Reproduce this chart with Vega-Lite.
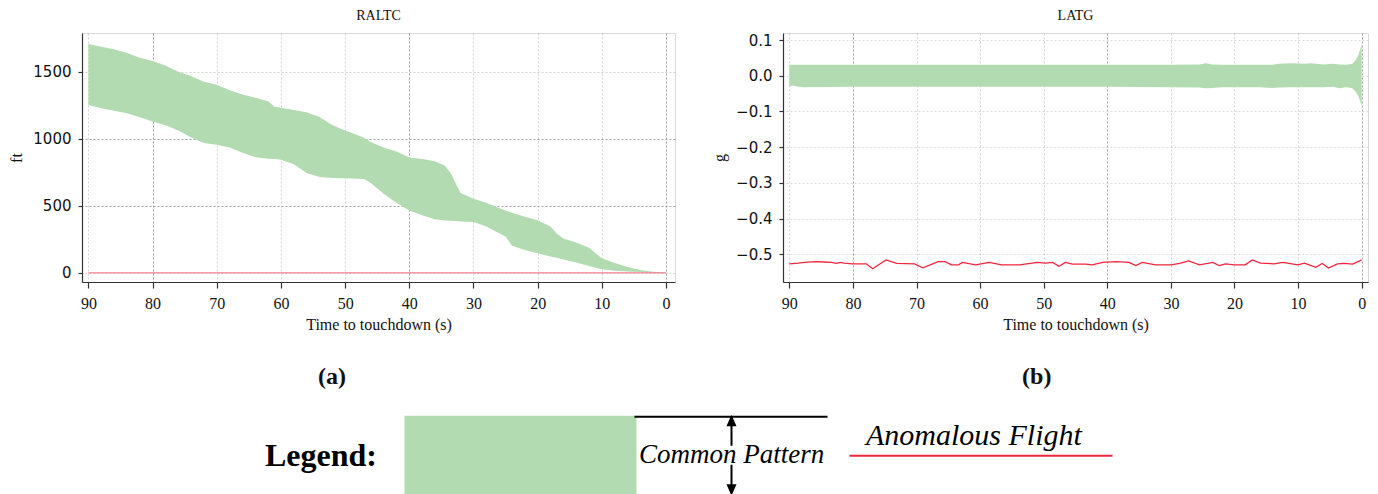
{
  "$schema": "https://vega.github.io/schema/vega-lite/v6.json",
  "padding": {"left": 8, "top": 8, "right": 10, "bottom": 0},
  "background": "white",
  "config": {
    "view": {"stroke": "#d9d9d9", "strokeWidth": 1},
    "axis": {
      "grid": true, "gridColor": "#c4c4c4", "gridDash": [2, 2], "gridWidth": 0.8,
      "domainColor": "#333333", "domainWidth": 1.2, "tickColor": "#333333", "tickWidth": 1.2,
      "labelColor": "#111111", "titleColor": "#111111",
      "titleFont": "Liberation Serif", "titleFontWeight": "normal", "titleFontSize": 16
    },
    "axisX": {"labelFont": "Liberation Serif", "labelFontSize": 16, "tickSize": 6, "labelPadding": 7, "titlePadding": 5, "labelFlush": false},
    "axisY": {"labelFont": "DejaVu Sans", "labelFontSize": 15, "tickSize": 4, "labelPadding": 7, "titlePadding": 8},
    "title": {"font": "Liberation Serif", "fontSize": 14, "fontWeight": "normal", "color": "#111111"}
  },
  "datasets": {
    "raltc_band": [
      {"t": 90, "hi": 1707, "lo": 1252, "series": "Common Pattern"},
      {"t": 88, "hi": 1688, "lo": 1228, "series": "Common Pattern"},
      {"t": 86, "hi": 1668, "lo": 1210, "series": "Common Pattern"},
      {"t": 84, "hi": 1640, "lo": 1190, "series": "Common Pattern"},
      {"t": 82, "hi": 1605, "lo": 1160, "series": "Common Pattern"},
      {"t": 80, "hi": 1580, "lo": 1129, "series": "Common Pattern"},
      {"t": 78, "hi": 1547, "lo": 1100, "series": "Common Pattern"},
      {"t": 76, "hi": 1500, "lo": 1062, "series": "Common Pattern"},
      {"t": 74, "hi": 1468, "lo": 1010, "series": "Common Pattern"},
      {"t": 72, "hi": 1425, "lo": 968, "series": "Common Pattern"},
      {"t": 70, "hi": 1403, "lo": 955, "series": "Common Pattern"},
      {"t": 68, "hi": 1362, "lo": 935, "series": "Common Pattern"},
      {"t": 66, "hi": 1330, "lo": 895, "series": "Common Pattern"},
      {"t": 64, "hi": 1306, "lo": 862, "series": "Common Pattern"},
      {"t": 62, "hi": 1280, "lo": 850, "series": "Common Pattern"},
      {"t": 61, "hi": 1240, "lo": 848, "series": "Common Pattern"},
      {"t": 60, "hi": 1232, "lo": 843, "series": "Common Pattern"},
      {"t": 58, "hi": 1215, "lo": 810, "series": "Common Pattern"},
      {"t": 56, "hi": 1198, "lo": 745, "series": "Common Pattern"},
      {"t": 54, "hi": 1162, "lo": 714, "series": "Common Pattern"},
      {"t": 52, "hi": 1102, "lo": 706, "series": "Common Pattern"},
      {"t": 50, "hi": 1062, "lo": 705, "series": "Common Pattern"},
      {"t": 48, "hi": 1026, "lo": 702, "series": "Common Pattern"},
      {"t": 47, "hi": 1005, "lo": 697, "series": "Common Pattern"},
      {"t": 46, "hi": 975, "lo": 670, "series": "Common Pattern"},
      {"t": 44, "hi": 935, "lo": 590, "series": "Common Pattern"},
      {"t": 42, "hi": 905, "lo": 522, "series": "Common Pattern"},
      {"t": 40, "hi": 860, "lo": 465, "series": "Common Pattern"},
      {"t": 38, "hi": 848, "lo": 428, "series": "Common Pattern"},
      {"t": 36, "hi": 832, "lo": 398, "series": "Common Pattern"},
      {"t": 34.5, "hi": 800, "lo": 390, "series": "Common Pattern"},
      {"t": 33.5, "hi": 740, "lo": 388, "series": "Common Pattern"},
      {"t": 32.5, "hi": 640, "lo": 385, "series": "Common Pattern"},
      {"t": 32, "hi": 595, "lo": 382, "series": "Common Pattern"},
      {"t": 30, "hi": 552, "lo": 378, "series": "Common Pattern"},
      {"t": 28, "hi": 522, "lo": 345, "series": "Common Pattern"},
      {"t": 26, "hi": 483, "lo": 295, "series": "Common Pattern"},
      {"t": 25, "hi": 465, "lo": 270, "series": "Common Pattern"},
      {"t": 24, "hi": 448, "lo": 200, "series": "Common Pattern"},
      {"t": 22, "hi": 418, "lo": 169, "series": "Common Pattern"},
      {"t": 20, "hi": 391, "lo": 144, "series": "Common Pattern"},
      {"t": 18, "hi": 345, "lo": 120, "series": "Common Pattern"},
      {"t": 17, "hi": 290, "lo": 112, "series": "Common Pattern"},
      {"t": 16, "hi": 255, "lo": 98, "series": "Common Pattern"},
      {"t": 14, "hi": 225, "lo": 76, "series": "Common Pattern"},
      {"t": 12, "hi": 185, "lo": 50, "series": "Common Pattern"},
      {"t": 10, "hi": 107, "lo": 25, "series": "Common Pattern"},
      {"t": 8, "hi": 72, "lo": 14, "series": "Common Pattern"},
      {"t": 6, "hi": 42, "lo": 8, "series": "Common Pattern"},
      {"t": 4, "hi": 20, "lo": 4, "series": "Common Pattern"},
      {"t": 2, "hi": 6, "lo": 1, "series": "Common Pattern"},
      {"t": 0, "hi": 0, "lo": 0, "series": "Common Pattern"}
    ],
    "raltc_anom": [
      {"t": 90, "v": 0, "series": "Anomalous Flight"},
      {"t": 0, "v": 0, "series": "Anomalous Flight"}
    ],
    "latg_band": [
      {"t": 90, "hi": 0.031, "lo": -0.030, "series": "Common Pattern"},
      {"t": 89.4, "hi": 0.031, "lo": -0.027, "series": "Common Pattern"},
      {"t": 88.8, "hi": 0.031, "lo": -0.030, "series": "Common Pattern"},
      {"t": 88, "hi": 0.031, "lo": -0.032, "series": "Common Pattern"},
      {"t": 80, "hi": 0.031, "lo": -0.031, "series": "Common Pattern"},
      {"t": 60, "hi": 0.031, "lo": -0.031, "series": "Common Pattern"},
      {"t": 40, "hi": 0.031, "lo": -0.031, "series": "Common Pattern"},
      {"t": 30, "hi": 0.031, "lo": -0.032, "series": "Common Pattern"},
      {"t": 25.5, "hi": 0.032, "lo": -0.033, "series": "Common Pattern"},
      {"t": 24.5, "hi": 0.035, "lo": -0.035, "series": "Common Pattern"},
      {"t": 23.5, "hi": 0.032, "lo": -0.034, "series": "Common Pattern"},
      {"t": 22, "hi": 0.031, "lo": -0.032, "series": "Common Pattern"},
      {"t": 16, "hi": 0.031, "lo": -0.032, "series": "Common Pattern"},
      {"t": 14, "hi": 0.031, "lo": -0.034, "series": "Common Pattern"},
      {"t": 13, "hi": 0.034, "lo": -0.033, "series": "Common Pattern"},
      {"t": 11, "hi": 0.035, "lo": -0.032, "series": "Common Pattern"},
      {"t": 9, "hi": 0.034, "lo": -0.032, "series": "Common Pattern"},
      {"t": 8, "hi": 0.035, "lo": -0.032, "series": "Common Pattern"},
      {"t": 6, "hi": 0.032, "lo": -0.032, "series": "Common Pattern"},
      {"t": 4.5, "hi": 0.034, "lo": -0.031, "series": "Common Pattern"},
      {"t": 3.5, "hi": 0.032, "lo": -0.035, "series": "Common Pattern"},
      {"t": 2.5, "hi": 0.031, "lo": -0.032, "series": "Common Pattern"},
      {"t": 1.5, "hi": 0.033, "lo": -0.034, "series": "Common Pattern"},
      {"t": 1, "hi": 0.042, "lo": -0.043, "series": "Common Pattern"},
      {"t": 0.5, "hi": 0.058, "lo": -0.057, "series": "Common Pattern"},
      {"t": 0, "hi": 0.088, "lo": -0.084, "series": "Common Pattern"}
    ],
    "latg_anom": [
      {"t": 90, "v": -0.527, "series": "Anomalous Flight"},
      {"t": 88.6, "v": -0.525, "series": "Anomalous Flight"},
      {"t": 87.6, "v": -0.523, "series": "Anomalous Flight"},
      {"t": 85.9, "v": -0.521, "series": "Anomalous Flight"},
      {"t": 84.5, "v": -0.522, "series": "Anomalous Flight"},
      {"t": 83.4, "v": -0.523, "series": "Anomalous Flight"},
      {"t": 82.6, "v": -0.526, "series": "Anomalous Flight"},
      {"t": 82, "v": -0.523, "series": "Anomalous Flight"},
      {"t": 81.4, "v": -0.525, "series": "Anomalous Flight"},
      {"t": 80, "v": -0.527, "series": "Anomalous Flight"},
      {"t": 77.9, "v": -0.527, "series": "Anomalous Flight"},
      {"t": 76.9, "v": -0.541, "series": "Anomalous Flight"},
      {"t": 74.8, "v": -0.516, "series": "Anomalous Flight"},
      {"t": 73.1, "v": -0.526, "series": "Anomalous Flight"},
      {"t": 70.3, "v": -0.527, "series": "Anomalous Flight"},
      {"t": 69, "v": -0.538, "series": "Anomalous Flight"},
      {"t": 66.6, "v": -0.521, "series": "Anomalous Flight"},
      {"t": 65.5, "v": -0.521, "series": "Anomalous Flight"},
      {"t": 64.5, "v": -0.530, "series": "Anomalous Flight"},
      {"t": 63.4, "v": -0.530, "series": "Anomalous Flight"},
      {"t": 62.8, "v": -0.523, "series": "Anomalous Flight"},
      {"t": 60.7, "v": -0.530, "series": "Anomalous Flight"},
      {"t": 58.6, "v": -0.523, "series": "Anomalous Flight"},
      {"t": 56.6, "v": -0.530, "series": "Anomalous Flight"},
      {"t": 53.8, "v": -0.530, "series": "Anomalous Flight"},
      {"t": 51, "v": -0.523, "series": "Anomalous Flight"},
      {"t": 49.7, "v": -0.525, "series": "Anomalous Flight"},
      {"t": 48.6, "v": -0.523, "series": "Anomalous Flight"},
      {"t": 47.6, "v": -0.534, "series": "Anomalous Flight"},
      {"t": 46.6, "v": -0.523, "series": "Anomalous Flight"},
      {"t": 45.5, "v": -0.528, "series": "Anomalous Flight"},
      {"t": 43.4, "v": -0.528, "series": "Anomalous Flight"},
      {"t": 42.4, "v": -0.530, "series": "Anomalous Flight"},
      {"t": 40.7, "v": -0.523, "series": "Anomalous Flight"},
      {"t": 38.6, "v": -0.521, "series": "Anomalous Flight"},
      {"t": 36.6, "v": -0.523, "series": "Anomalous Flight"},
      {"t": 35.5, "v": -0.532, "series": "Anomalous Flight"},
      {"t": 34.5, "v": -0.523, "series": "Anomalous Flight"},
      {"t": 32.4, "v": -0.530, "series": "Anomalous Flight"},
      {"t": 30, "v": -0.530, "series": "Anomalous Flight"},
      {"t": 28.6, "v": -0.526, "series": "Anomalous Flight"},
      {"t": 27.2, "v": -0.519, "series": "Anomalous Flight"},
      {"t": 25.5, "v": -0.530, "series": "Anomalous Flight"},
      {"t": 23.4, "v": -0.523, "series": "Anomalous Flight"},
      {"t": 22.4, "v": -0.532, "series": "Anomalous Flight"},
      {"t": 21.4, "v": -0.527, "series": "Anomalous Flight"},
      {"t": 20, "v": -0.530, "series": "Anomalous Flight"},
      {"t": 18.3, "v": -0.530, "series": "Anomalous Flight"},
      {"t": 17.2, "v": -0.516, "series": "Anomalous Flight"},
      {"t": 15.9, "v": -0.525, "series": "Anomalous Flight"},
      {"t": 13.8, "v": -0.527, "series": "Anomalous Flight"},
      {"t": 12.4, "v": -0.523, "series": "Anomalous Flight"},
      {"t": 10, "v": -0.530, "series": "Anomalous Flight"},
      {"t": 9, "v": -0.525, "series": "Anomalous Flight"},
      {"t": 7.2, "v": -0.537, "series": "Anomalous Flight"},
      {"t": 6.2, "v": -0.526, "series": "Anomalous Flight"},
      {"t": 5.2, "v": -0.539, "series": "Anomalous Flight"},
      {"t": 3.8, "v": -0.527, "series": "Anomalous Flight"},
      {"t": 2.8, "v": -0.526, "series": "Anomalous Flight"},
      {"t": 1.4, "v": -0.528, "series": "Anomalous Flight"},
      {"t": 0, "v": -0.516, "series": "Anomalous Flight"}
    ]
  },
  "spacing": 35,
  "hconcat": [
    {
      "title": {"text": "(a)", "orient": "bottom", "anchor": "middle", "font": "Liberation Serif", "fontSize": 24, "fontWeight": "bold", "offset": 32, "dx": -10},
      "vconcat": [
        {
          "width": 593, "height": 249,
          "title": {"text": "RALTC", "offset": 10},
          "layer": [
            {
              "data": {"name": "raltc_band"},
              "mark": {"type": "area", "opacity": 1},
              "encoding": {
                "x": {"field": "t", "type": "quantitative", "scale": {"domain": [-1.4, 91], "reverse": true, "nice": false}, "axis": {"values": [90, 80, 70, 60, 50, 40, 30, 20, 10, 0], "title": "Time to touchdown (s)", "gridColor": {"condition": {"test": "datum.value % 40 === 0", "value": "#8a8a8a"}, "value": "#c8c8c8"}}},
                "y": {"field": "hi", "type": "quantitative", "scale": {"domain": [-70, 1790], "nice": false, "zero": false}, "axis": {"values": [0, 500, 1000, 1500], "format": "d", "title": "ft", "gridColor": {"condition": {"test": "datum.value === 500 || datum.value === 1000", "value": "#8a8a8a"}, "value": "#c8c8c8"}}},
                "y2": {"field": "lo"},
                "color": {
                  "field": "series", "type": "nominal",
                  "scale": {"domain": ["Common Pattern", " ", "Anomalous Flight"], "range": ["#b2dbb1", "#000000", "#f2243e"]},
                  "legend": {
                    "orient": "none", "legendX": 183, "legendY": 408, "direction": "horizontal",
                    "title": "Legend:", "titleOrient": "left", "titleFont": "Liberation Serif", "titleFontSize": 32, "titleFontWeight": "bold", "titleColor": "#000000", "titlePadding": 230, "titleAnchor": "start", "titleBaseline": "top",
                    "labelFont": "Liberation Serif", "labelFontStyle": "italic", "labelFontSize": 27, "labelColor": "#000000", "labelOffset": 5, "labelLimit": 400,
                    "symbolSize": 400, "symbolStrokeWidth": 2, "columnPadding": -500, "padding": 0,
                    "encoding": {
                      "symbols": {
                        "shape": {"value": {"expr": "datum.value === 'Common Pattern' ? 'M-21.5,-3.8H1.5V3.9H-21.5Z' : (datum.value === 'Anomalous Flight' ? 'M-0.2,0.1H26.1M0,-3.8M0,3.9' : 'M-20.4,-3.8H-1.1M-10.7,-0.9V-3.4M-10.7,-3.75L-11.05,-2.95H-10.35ZM-10.7,1.0V3.5M-10.7,3.85L-11.05,3.05H-10.35ZM-0.45,0M-0.45,3.9')"}},
                        "fill": {"value": {"expr": "datum.value === 'Common Pattern' ? '#b2dbb1' : (datum.value === 'Anomalous Flight' ? 'transparent' : '#000000')"}},
                        "stroke": {"value": {"expr": "datum.value === 'Common Pattern' ? 'transparent' : (datum.value === 'Anomalous Flight' ? '#f2243e' : '#000000')"}},
                        "strokeWidth": {"value": 2},
                        "opacity": {"value": 1}
                      },
                      "labels": {
                        "fontSize": {"value": {"expr": "datum.value === 'Anomalous Flight' ? 30 : 27"}},
                        "dy": {"value": {"expr": "datum.value === 'Anomalous Flight' ? -19 : 0"}},
                        "dx": {"value": {"expr": "datum.value === 'Anomalous Flight' ? -4 : (datum.value === ' ' ? -200 : 0)"}}
                      }
                    }
                  }
                }
              }
            },
            {
              "data": {"name": "raltc_anom"},
              "mark": {"type": "line", "opacity": 0.45, "strokeWidth": 1.5},
              "encoding": {
                "x": {"field": "t", "type": "quantitative"},
                "y": {"field": "v", "type": "quantitative"},
                "color": {"field": "series", "type": "nominal"}
              }
            }
          ]
        }
      ]
    },
    {
      "title": {"text": "(b)", "orient": "bottom", "anchor": "middle", "font": "Liberation Serif", "fontSize": 24, "fontWeight": "bold", "offset": 32, "dx": -3},
      "vconcat": [
        {
          "width": 585, "height": 249,
          "title": {"text": "LATG", "offset": 10},
          "layer": [
            {
              "data": {"name": "latg_band"},
              "mark": {"type": "area", "opacity": 1},
              "encoding": {
                "x": {"field": "t", "type": "quantitative", "scale": {"domain": [-1, 91], "reverse": true, "nice": false}, "axis": {"values": [90, 80, 70, 60, 50, 40, 30, 20, 10, 0], "title": "Time to touchdown (s)", "gridColor": {"condition": {"test": "datum.value % 40 === 0", "value": "#8a8a8a"}, "value": "#c8c8c8"}}},
                "y": {"field": "hi", "type": "quantitative", "scale": {"domain": [-0.578, 0.12], "nice": false, "zero": false}, "axis": {"values": [0.1, 0, -0.1, -0.2, -0.3, -0.4, -0.5], "format": ".1f", "title": "g", "gridColor": "#d0d0d0"}},
                "y2": {"field": "lo"},
                "color": {"field": "series", "type": "nominal"}
              }
            },
            {
              "data": {"name": "latg_anom"},
              "mark": {"type": "line", "strokeWidth": 1.3},
              "encoding": {
                "x": {"field": "t", "type": "quantitative"},
                "y": {"field": "v", "type": "quantitative"},
                "color": {"field": "series", "type": "nominal"}
              }
            }
          ]
        }
      ]
    }
  ]
}
